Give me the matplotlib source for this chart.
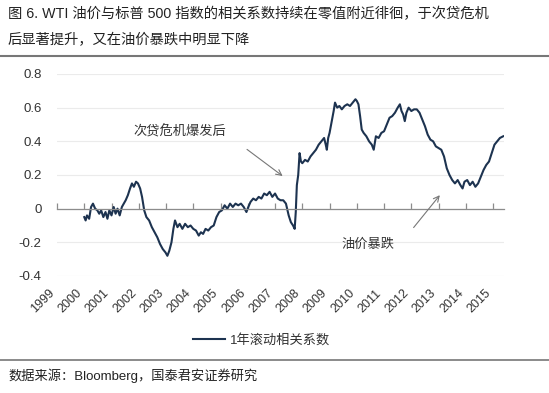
import matplotlib
matplotlib.use("Agg")
import matplotlib.pyplot as plt

plt.rcParams['font.family'] = ['Liberation Sans', 'Noto Sans CJK SC', 'DejaVu Sans']

title_lines = ["图 6. WTI 油价与标普 500 指数的相关系数持续在零值附近徘徊，于次贷危机",
               "后显著提升，又在油价暴跌中明显下降"]
source_text = "数据来源：Bloomberg，国泰君安证券研究"
series_name = "1年滚动相关系数"

year_labels = [str(y) for y in range(1999, 2016)]
y_ticks = [-0.4, -0.2, 0, 0.2, 0.4, 0.6, 0.8]
y_tick_labels = ["-0.4", "-0.2", "0", "0.2", "0.4", "0.6", "0.8"]

# rolling 1y correlation
years = [2000.00, 2000.05, 2000.10, 2000.18, 2000.25, 2000.32, 2000.40, 2000.48, 2000.55, 2000.62, 2000.70, 2000.78, 2000.85, 2000.92,
         2001.00, 2001.08, 2001.15, 2001.22, 2001.30, 2001.38, 2001.45, 2001.52, 2001.60, 2001.68, 2001.75, 2001.82, 2001.90, 2001.97,
         2002.05, 2002.12, 2002.20, 2002.28, 2002.38, 2002.48, 2002.58, 2002.68, 2002.78, 2002.88, 2002.98,
         2003.05, 2003.12, 2003.20, 2003.27, 2003.33, 2003.42, 2003.50, 2003.60, 2003.70, 2003.80, 2003.90,
         2004.00, 2004.10, 2004.20, 2004.28, 2004.36, 2004.45, 2004.55, 2004.65, 2004.75, 2004.85, 2004.95,
         2005.05, 2005.15, 2005.25, 2005.35, 2005.45, 2005.55, 2005.65, 2005.75, 2005.85, 2005.95,
         2006.02, 2006.10, 2006.20, 2006.30, 2006.40, 2006.50, 2006.60, 2006.70, 2006.80, 2006.90,
         2007.00, 2007.10, 2007.20, 2007.30, 2007.40, 2007.50, 2007.58, 2007.66, 2007.72, 2007.76, 2007.80, 2007.85, 2007.90, 2007.95,
         2008.00, 2008.10, 2008.20, 2008.30, 2008.40, 2008.50, 2008.60, 2008.70, 2008.80, 2008.86, 2008.90, 2008.95,
         2009.00, 2009.08, 2009.15, 2009.20, 2009.28, 2009.36, 2009.45, 2009.55, 2009.65, 2009.75, 2009.85, 2009.95,
         2010.00, 2010.06, 2010.12, 2010.18, 2010.25, 2010.35, 2010.45, 2010.55, 2010.62, 2010.70, 2010.80, 2010.90,
         2011.00, 2011.10, 2011.20, 2011.30, 2011.40, 2011.50, 2011.58, 2011.64, 2011.70, 2011.76, 2011.82, 2011.90,
         2012.00, 2012.10, 2012.20, 2012.30, 2012.40, 2012.50, 2012.60, 2012.70, 2012.80, 2012.90,
         2013.00, 2013.10, 2013.20, 2013.30, 2013.40, 2013.50, 2013.60, 2013.70, 2013.80, 2013.88, 2013.95,
         2014.05, 2014.15, 2014.25, 2014.35, 2014.45, 2014.55, 2014.65, 2014.75, 2014.85, 2014.95,
         2015.05, 2015.15, 2015.25, 2015.37]
corr = [-0.05, -0.07, -0.04, -0.06, 0.01, 0.03, 0.00, -0.01, -0.03, -0.01, -0.05, -0.02, -0.06, -0.01,
        -0.04, 0.01, -0.03, 0.00, -0.04, 0.01, 0.03, 0.05, 0.08, 0.12, 0.15, 0.13, 0.16, 0.15,
        0.12, 0.07, -0.01, -0.05, -0.07, -0.11, -0.14, -0.17, -0.21, -0.24, -0.26,
        -0.28, -0.25, -0.20, -0.12, -0.07, -0.11, -0.09, -0.12, -0.09, -0.11, -0.10,
        -0.12, -0.13, -0.16, -0.14, -0.15, -0.12, -0.13, -0.11, -0.10, -0.05, -0.02,
        -0.01, 0.02, 0.00, 0.03, 0.01, 0.03, 0.02, 0.03, 0.01, -0.02,
        0.01, 0.04, 0.06, 0.05, 0.07, 0.06, 0.09, 0.08, 0.10, 0.07,
        0.09, 0.06, 0.05, 0.05, 0.03, -0.04, -0.08, -0.10, -0.12, -0.02, 0.14, 0.20, 0.33, 0.28,
        0.27, 0.29, 0.28, 0.31, 0.33, 0.35, 0.38, 0.40, 0.42, 0.38, 0.35, 0.42,
        0.45, 0.52, 0.58, 0.63, 0.60, 0.61, 0.59, 0.61, 0.62, 0.61, 0.63, 0.65,
        0.64, 0.62, 0.55, 0.47, 0.45, 0.43, 0.40, 0.38, 0.35, 0.43, 0.42, 0.45,
        0.46, 0.50, 0.54, 0.55, 0.57, 0.60, 0.62, 0.58, 0.56, 0.52, 0.57, 0.60,
        0.58, 0.59, 0.59, 0.57, 0.53, 0.49, 0.44, 0.41, 0.40, 0.37,
        0.36, 0.35, 0.31, 0.24, 0.20, 0.17, 0.15, 0.17, 0.14, 0.12, 0.16,
        0.17, 0.14, 0.16, 0.13, 0.15, 0.19, 0.23, 0.26, 0.28, 0.33,
        0.38, 0.40, 0.42, 0.43]

line_color = "#1d3350"
grey = "#8c8c8c"

fig = plt.figure(figsize=(5.49, 3.93), dpi=100)
ax = fig.add_axes([57 / 549, 1 - 276 / 393, (504 - 57) / 549, (276 - 74) / 393])

ax.plot(years, corr, color=line_color, lw=1.5, label=series_name)

ax.set_xlim(1999, 2015.4)
ax.set_ylim(-0.4, 0.8)
ax.set_yticks(y_ticks)
ax.set_yticklabels(y_tick_labels)
ax.tick_params(axis='y', length=0, pad=11, labelsize=9.5, colors="#333333")
ax.grid(axis='y', color="#ebebeb", lw=0.8)

for s in ['top', 'right', 'left']:
    ax.spines[s].set_visible(False)
ax.spines['bottom'].set_position(('data', 0))
ax.spines['bottom'].set_color(grey)
ax.spines['bottom'].set_linewidth(0.9)
tick_years = list(range(1999, 2016))
ax.set_xticks(tick_years)
ax.set_xticklabels([])
ax.tick_params(axis='x', direction='in', length=4, color=grey, width=0.9)

sec = ax.secondary_xaxis(location=0)
sec.set_xticks(tick_years)
sec.set_xticklabels(year_labels, rotation=45, ha='right', va='top')
sec.tick_params(axis='x', length=0, pad=8, labelsize=9, colors="#333333")
sec.spines['bottom'].set_visible(False)

arrow = dict(arrowstyle="->", color="#777777", lw=0.8)
ax.annotate("", xy=(2007.36, 0.184), xytext=(2005.89, 0.362), arrowprops=arrow)
ax.text(2003.51, 0.459, "次贷危机爆发后", ha='center', va='center', fontsize=9.5, color="#333333")
ax.annotate("", xy=(2013.11, 0.093), xytext=(2012.02, -0.125), arrowprops=arrow)
ax.text(2010.40, -0.214, "油价暴跌", ha='center', va='center', fontsize=9.5, color="#333333")

leg = fig.legend(loc='center', bbox_to_anchor=(262 / 549, 1 - 340 / 393), frameon=False,
                 fontsize=9.5, handlelength=2.4, handletextpad=0.4)
for t in leg.get_texts():
    t.set_color("#333333")

fig.text(8 / 549, 1 - 14 / 393, title_lines[0], fontsize=10.3, va='center', ha='left', color="#222222")
fig.text(8 / 549, 1 - 40 / 393, title_lines[1], fontsize=10.3, va='center', ha='left', color="#222222")
fig.add_artist(plt.Line2D([0, 1], [1 - 56 / 393] * 2, color="#777777", lw=1.5))
fig.add_artist(plt.Line2D([0, 1], [1 - 360 / 393] * 2, color="#777777", lw=1.2))
fig.text(8 / 549, 1 - 376 / 393, source_text, fontsize=9.5, va='center', ha='left', color="#222222")

fig.savefig("out.png", dpi=100)
